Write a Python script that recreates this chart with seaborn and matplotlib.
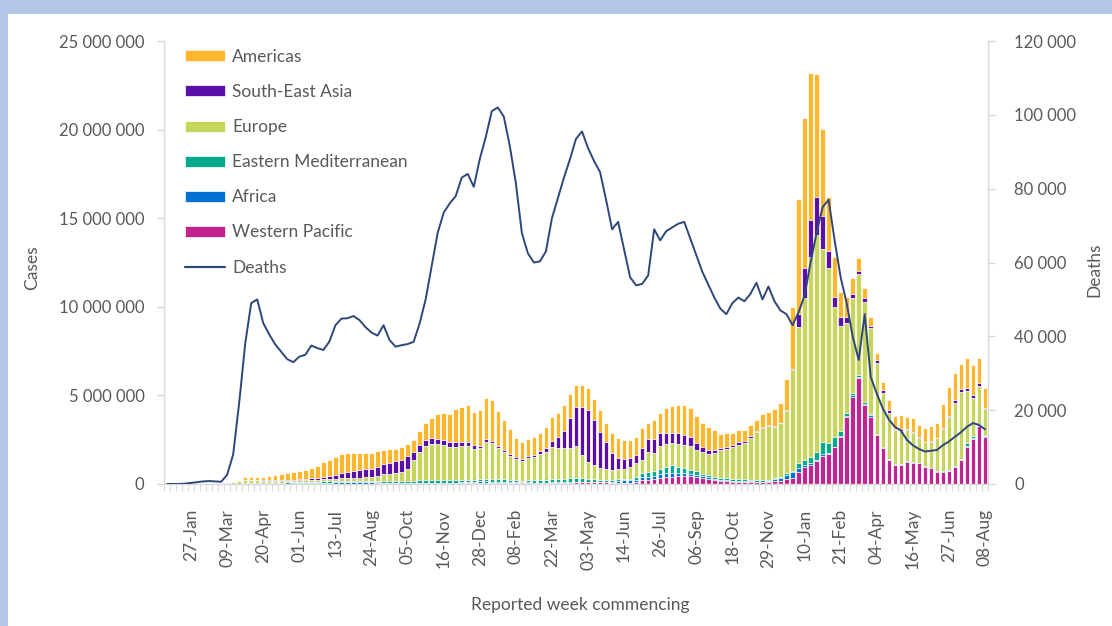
import numpy as np
import pandas as pd
import matplotlib
matplotlib.use("Agg")
import matplotlib.pyplot as plt
import seaborn as sns
from matplotlib.patches import Patch, Rectangle
from matplotlib.lines import Line2D
from matplotlib.ticker import FuncFormatter

# ---------------- data (weekly, from week commencing 30 Dec 2019 to 08 Aug 2022) ----------------
week_dates = pd.date_range("2019-12-30", "2022-08-08", freq="7D")
week_ids = [d.strftime("%Y-%m-%d") for d in week_dates]

tick_labels = ["27-Jan", "09-Mar", "20-Apr", "01-Jun", "13-Jul", "24-Aug", "05-Oct", "16-Nov",
               "28-Dec", "08-Feb", "22-Mar", "03-May", "14-Jun", "26-Jul", "06-Sep", "18-Oct",
               "29-Nov", "10-Jan", "21-Feb", "04-Apr", "16-May", "27-Jun", "08-Aug"]

# cases per week, millions
americas = [0, 0, 0, 0, 0, 0, 0, 0, 0, 0.0005,
            0.003, 0.02, 0.06, 0.16, 0.19, 0.2, 0.21, 0.24, 0.28, 0.33,
            0.4, 0.41, 0.47, 0.5, 0.6, 0.68, 0.82, 0.9, 1.02, 1.08,
            1.08, 1.02, 0.98, 0.95, 0.9, 0.9, 0.8, 0.75, 0.72, 0.7,
            0.7, 0.72, 0.8, 0.95, 1.15, 1.4, 1.5, 1.6, 1.85, 1.95,
            2.1, 1.9, 2.0, 2.35, 2.3, 1.95, 1.7, 1.4, 1.1, 1.0,
            0.98, 0.98, 1.05, 1.2, 1.35, 1.35, 1.47, 1.4, 1.28, 1.24,
            1.22, 1.18, 1.24, 1.11, 1.13, 1.09, 1.07, 1.07, 1.03, 1.13,
            0.9, 1.05, 1.13, 1.39, 1.52, 1.6, 1.69, 1.6, 1.56, 1.35,
            1.32, 1.13, 0.81, 0.75, 0.7, 0.68, 0.62, 0.64, 0.62, 0.71,
            0.75, 0.97, 1.08, 1.74, 3.5, 6.5, 8.47, 8.31, 6.92, 4.9,
            3.05, 2.26, 1.41, 1.13, 0.85, 0.7, 0.56, 0.52, 0.44, 0.45,
            0.58, 0.72, 0.8, 0.72, 0.8, 0.7, 0.75, 0.85, 0.8, 1.32,
            1.64, 1.56, 1.43, 1.69, 1.69, 1.41, 1.13]
south_east_asia = [0, 0, 0, 0, 0, 0, 0, 0, 0, 0,
                   0.0005, 0.001, 0.002, 0.006, 0.01, 0.012, 0.015, 0.025, 0.03, 0.04,
                   0.05, 0.06, 0.075, 0.085, 0.1, 0.12, 0.14, 0.17, 0.22, 0.28,
                   0.35, 0.4, 0.43, 0.45, 0.48, 0.55, 0.56, 0.62, 0.65, 0.7,
                   0.7, 0.45, 0.4, 0.33, 0.3, 0.28, 0.28, 0.27, 0.25, 0.23,
                   0.2, 0.18, 0.16, 0.15, 0.14, 0.12, 0.1, 0.1, 0.1, 0.1,
                   0.12, 0.13, 0.16, 0.2, 0.35, 0.6, 1.0, 1.65, 2.2, 2.7,
                   2.91, 2.52, 2.05, 1.5, 0.98, 0.62, 0.53, 0.47, 0.47, 0.66,
                   0.7, 0.79, 0.75, 0.62, 0.56, 0.6, 0.56, 0.56, 0.36, 0.28,
                   0.23, 0.15, 0.13, 0.15, 0.13, 0.13, 0.13, 0.1, 0.08, 0.08,
                   0.07, 0.06, 0.04, 0.05, 0.05, 0.73, 1.68, 2.07, 2.16, 1.86,
                   0.93, 0.56, 0.56, 0.38, 0.28, 0.19, 0.19, 0.13, 0.16, 0.17,
                   0.15, 0.1, 0.1, 0.06, 0.05, 0.04, 0.04, 0.04, 0.04, 0.05,
                   0.05, 0.17, 0.15, 0.17, 0.15, 0.15, 0.08]
europe = [0, 0, 0, 0, 0, 0, 0, 0.0001, 0.001, 0.007,
          0.03, 0.09, 0.16, 0.21, 0.18, 0.16, 0.14, 0.13, 0.12, 0.11,
          0.1, 0.09, 0.09, 0.085, 0.09, 0.1, 0.11, 0.12, 0.13, 0.14,
          0.15, 0.16, 0.18, 0.2, 0.23, 0.27, 0.38, 0.4, 0.45, 0.5,
          0.7, 1.15, 1.6, 1.93, 2.06, 2.06, 1.98, 1.88, 1.9, 1.9,
          1.9, 1.75, 1.75, 2.1, 2.04, 1.79, 1.55, 1.35, 1.2, 1.1,
          1.24, 1.32, 1.47, 1.6, 1.8, 1.75, 1.7, 1.7, 1.76, 1.32,
          0.95, 0.8, 0.65, 0.6, 0.55, 0.6, 0.56, 0.66, 0.75, 0.75,
          1.13, 1.02, 1.26, 1.28, 1.24, 1.28, 1.32, 1.32, 1.22, 1.22,
          1.18, 1.35, 1.56, 1.64, 1.79, 1.95, 2.06, 2.37, 2.72, 2.95,
          3.06, 2.85, 3.02, 3.53, 5.7, 7.7, 9.14, 11.29, 12.23, 10.93,
          9.92, 7.34, 5.89, 5.07, 5.35, 5.71, 5.65, 4.84, 3.97, 3.07,
          2.61, 1.9, 1.86, 1.71, 1.62, 1.38, 1.33, 1.46, 1.84, 2.37,
          2.97, 3.52, 3.79, 2.95, 2.16, 2.12, 1.45]
eastern_mediterranean = [0, 0, 0, 0, 0, 0, 0, 0, 0.001, 0.004,
                         0.01, 0.012, 0.018, 0.02, 0.02, 0.025, 0.03, 0.035, 0.045, 0.055,
                         0.065, 0.07, 0.08, 0.085, 0.09, 0.09, 0.09, 0.085, 0.08, 0.075,
                         0.07, 0.07, 0.07, 0.07, 0.07, 0.07, 0.09, 0.1, 0.1, 0.1,
                         0.1, 0.12, 0.13, 0.14, 0.14, 0.14, 0.15, 0.14, 0.13, 0.13,
                         0.12, 0.11, 0.11, 0.12, 0.12, 0.12, 0.12, 0.11, 0.11, 0.1,
                         0.11, 0.12, 0.13, 0.15, 0.17, 0.18, 0.2, 0.23, 0.22, 0.2,
                         0.17, 0.14, 0.12, 0.11, 0.1, 0.1, 0.1, 0.1, 0.18, 0.23,
                         0.28, 0.3, 0.3, 0.38, 0.47, 0.34, 0.28, 0.22, 0.18, 0.15,
                         0.12, 0.1, 0.1, 0.1, 0.1, 0.1, 0.09, 0.08, 0.07, 0.07,
                         0.06, 0.07, 0.06, 0.07, 0.1, 0.28, 0.28, 0.37, 0.47, 0.69,
                         0.56, 0.56, 0.3, 0.15, 0.12, 0.1, 0.1, 0.08, 0.05, 0.04,
                         0.03, 0.03, 0.03, 0.02, 0.02, 0.02, 0.02, 0.02, 0.02, 0.03,
                         0.03, 0.03, 0.03, 0.15, 0.12, 0.1, 0.06]
africa = [0, 0, 0, 0, 0, 0, 0, 0, 0, 0,
          0, 0.0005, 0.002, 0.004, 0.005, 0.006, 0.007, 0.01, 0.012, 0.015,
          0.02, 0.025, 0.03, 0.035, 0.04, 0.045, 0.055, 0.065, 0.08, 0.1,
          0.1, 0.1, 0.09, 0.08, 0.07, 0.06, 0.05, 0.05, 0.04, 0.04,
          0.035, 0.04, 0.04, 0.04, 0.04, 0.04, 0.04, 0.03, 0.04, 0.06,
          0.07, 0.08, 0.09, 0.09, 0.08, 0.08, 0.08, 0.07, 0.05, 0.04,
          0.04, 0.03, 0.03, 0.03, 0.03, 0.04, 0.04, 0.04, 0.04, 0.04,
          0.04, 0.04, 0.04, 0.05, 0.06, 0.08, 0.12, 0.13, 0.14, 0.17,
          0.18, 0.17, 0.2, 0.19, 0.19, 0.19, 0.17, 0.15, 0.13, 0.1,
          0.08, 0.07, 0.05, 0.05, 0.04, 0.04, 0.04, 0.03, 0.03, 0.04,
          0.05, 0.12, 0.2, 0.25, 0.3, 0.2, 0.14, 0.1, 0.08, 0.07,
          0.06, 0.05, 0.05, 0.08, 0.08, 0.08, 0.08, 0.07, 0.03, 0.03,
          0.02, 0.02, 0.03, 0.03, 0.02, 0.02, 0.02, 0.02, 0.02, 0.02,
          0.02, 0.02, 0.02, 0.05, 0.05, 0.04, 0.03]
western_pacific = [0.00005, 0.0001, 0.0003, 0.003, 0.012, 0.02, 0.025, 0.018, 0.008, 0.004,
                   0.006, 0.007, 0.008, 0.01, 0.01, 0.01, 0.008, 0.007, 0.006, 0.006,
                   0.005, 0.005, 0.005, 0.005, 0.005, 0.005, 0.005, 0.008, 0.01, 0.015,
                   0.02, 0.02, 0.02, 0.02, 0.02, 0.03, 0.03, 0.03, 0.03, 0.03,
                   0.025, 0.03, 0.03, 0.03, 0.03, 0.03, 0.03, 0.03, 0.04, 0.05,
                   0.06, 0.06, 0.06, 0.06, 0.06, 0.06, 0.06, 0.05, 0.05, 0.05,
                   0.05, 0.05, 0.05, 0.05, 0.06, 0.06, 0.07, 0.08, 0.1, 0.1,
                   0.1, 0.1, 0.09, 0.09, 0.08, 0.08, 0.08, 0.08, 0.1, 0.2,
                   0.23, 0.28, 0.36, 0.41, 0.41, 0.45, 0.43, 0.43, 0.4, 0.34,
                   0.3, 0.23, 0.19, 0.17, 0.13, 0.13, 0.13, 0.12, 0.1, 0.1,
                   0.1, 0.15, 0.15, 0.28, 0.35, 0.7, 0.94, 1.07, 1.27, 1.6,
                   1.67, 2.06, 2.65, 3.76, 4.92, 5.96, 4.46, 3.8, 2.76, 2.01,
                   1.35, 1.07, 1.07, 1.26, 1.2, 1.17, 0.98, 0.88, 0.7, 0.7,
                   0.75, 0.98, 1.35, 2.1, 2.52, 3.27, 2.67]
# deaths per week, thousands
deaths_k = [0, 0, 0.01, 0.1, 0.3, 0.5, 0.7, 0.8, 0.7, 0.6,
            2.5, 8, 22, 38, 49, 50, 43.6, 40.5, 37.8, 35.8,
            33.8, 33, 34.5, 35, 37.5, 36.8, 36.3, 38.6, 43, 44.8,
            44.9, 45.5, 44.4, 42.5, 41, 40.2, 43, 39, 37.2, 37.6,
            37.9, 38.5, 43.5, 50, 59, 68, 73.5, 76, 78, 83,
            84, 80.5, 88, 94, 101, 102, 99.5, 91.5, 81.5, 68,
            62.5, 60, 60.3, 63, 72, 77.5, 83, 88, 93.5, 95.5,
            91, 87.5, 84.5, 77, 69, 71, 63.5, 56, 53.8, 54.2,
            56.5, 69, 66, 68.5, 69.5, 70.5, 71, 66.5, 62, 57.5,
            54, 50.5, 47.5, 46, 49, 50.5, 49.5, 51.5, 54.5, 50,
            53.5, 49.5, 47, 46, 43, 46.5, 51, 60, 68, 75,
            77, 66, 56, 49, 40, 33.6, 46, 29, 24.5, 20.5,
            17.5, 15.5, 14.5, 12, 10.5, 9.5, 8.8, 9, 9.2, 10.5,
            11.5, 12.8, 14, 15.5, 16.5, 16, 14.8]

regions = ["Americas", "South-East Asia", "Europe", "Eastern Mediterranean", "Africa", "Western Pacific"]
colors = {"Americas": "#FFB62D", "South-East Asia": "#5A0FA8", "Europe": "#C5D65A",
          "Eastern Mediterranean": "#00A88C", "Africa": "#0070D2", "Western Pacific": "#C0248E"}
region_values = {"Americas": americas, "South-East Asia": south_east_asia, "Europe": europe,
                 "Eastern Mediterranean": eastern_mediterranean, "Africa": africa,
                 "Western Pacific": western_pacific}

n = len(week_ids)
for k, v in region_values.items():
    assert len(v) == n, (k, len(v))
assert len(deaths_k) == n

df = pd.DataFrame({"week": week_ids})
for r in regions:
    df[r] = np.array(region_values[r]) * 1e6
df["Deaths"] = np.array(deaths_k) * 1e3

# stack order bottom -> top
stack_order = ["Western Pacific", "Africa", "Eastern Mediterranean", "Europe", "South-East Asia", "Americas"]
cum = df[stack_order].cumsum(axis=1)

# ---------------- figure ----------------
sns.set_theme(style="white")
plt.rcParams["font.family"] = ["Lato", "DejaVu Sans"]
TXT = "#595959"
GRID = "#D9D9D9"

fig = plt.figure(figsize=(11.12, 6.26), dpi=100)
fig.patch.set_facecolor("white")
fig.patches.append(Rectangle((0, 1 - 14 / 626), 1, 14 / 626, transform=fig.transFigure,
                             facecolor="#B4C7E7", edgecolor="none", zorder=-5))
fig.patches.append(Rectangle((0, 0), 8 / 1112, 1, transform=fig.transFigure,
                             facecolor="#B4C7E7", edgecolor="none", zorder=-5))

ax = fig.add_axes([164 / 1112, 1 - 484 / 626, (988 - 164) / 1112, (484 - 41) / 626])

plot_df = df.assign(**{f"cum_{r}": cum[r] for r in stack_order})
for r in reversed(stack_order):
    sns.barplot(data=plot_df, x="week", y=f"cum_{r}", order=week_ids, color=colors[r],
                saturation=1, width=0.74, edgecolor="white", linewidth=0.55,
                errorbar=None, ax=ax)

ax.set_xlim(-0.5, n - 0.5)
ax.set_ylim(0, 25e6)
ax.set_yticks(np.arange(0, 25e6 + 1, 5e6))
ax.yaxis.set_major_formatter(FuncFormatter(lambda v, p: f"{int(v):,}".replace(",", " ")))
tick_pos = list(range(4, n, 6))
ax.set_xticks(tick_pos)
ax.set_xticklabels(tick_labels, rotation=90)
ax.set_xticks(np.arange(-0.5, n, 1), minor=True)
ax.set_xlabel("")
ax.set_ylabel("")
for s in ["top", "right"]:
    ax.spines[s].set_visible(False)
for s in ["left", "bottom"]:
    ax.spines[s].set_color(GRID)
    ax.spines[s].set_linewidth(1.0)
ax.tick_params(axis="y", which="major", left=True, length=5, width=1, color=GRID,
               labelcolor=TXT, labelsize=12, pad=9)
ax.tick_params(axis="x", which="major", bottom=False, labelcolor=TXT, labelsize=12.5, pad=12)
ax.tick_params(axis="x", which="minor", bottom=True, length=5, width=0.8, color=GRID)

ax2 = ax.twinx()
sns.lineplot(x=np.arange(n), y=df["Deaths"].values, ax=ax2, color="#2F4778", linewidth=1.4)
ax2.set_ylim(0, 120000)
ax2.set_yticks(np.arange(0, 120001, 20000))
ax2.yaxis.set_major_formatter(FuncFormatter(lambda v, p: f"{int(v):,}".replace(",", " ")))
ax2.set_xlim(-0.5, n - 0.5)
ax2.set_ylabel("")
for s in ["top", "left", "bottom"]:
    ax2.spines[s].set_visible(False)
ax2.spines["right"].set_color(GRID)
ax2.spines["right"].set_linewidth(1.0)
ax2.tick_params(axis="y", right=True, length=5, width=1, color=GRID, labelcolor=TXT,
                labelsize=12, pad=14)

handles = [Patch(facecolor=colors[r], edgecolor="white", linewidth=0.5) for r in regions]
handles.append(Line2D([0], [0], color="#2F4778", linewidth=1.6))
leg = ax2.legend(handles, regions + ["Deaths"], loc="upper left",
                 bbox_to_anchor=(185 / 1112, 1 - 49 / 626), bbox_transform=fig.transFigure,
                 frameon=False, fontsize=12.5, handlelength=2.3, handleheight=0.6,
                 handletextpad=0.4, labelspacing=1.1, borderpad=0, borderaxespad=0)
for t in leg.get_texts():
    t.set_color(TXT)

fig.text(32 / 1112, 1 - 268 / 626, "Cases", rotation=90, ha="center", va="center",
         color=TXT, fontsize=12.5)
fig.text(1094 / 1112, 1 - 270 / 626, "Deaths", rotation=90, ha="center", va="center",
         color=TXT, fontsize=12.5)
fig.text(580 / 1112, 1 - 605 / 626, "Reported week commencing", ha="center", va="center",
         color=TXT, fontsize=12.5)

fig.savefig("out.png", dpi=100, facecolor="white")
